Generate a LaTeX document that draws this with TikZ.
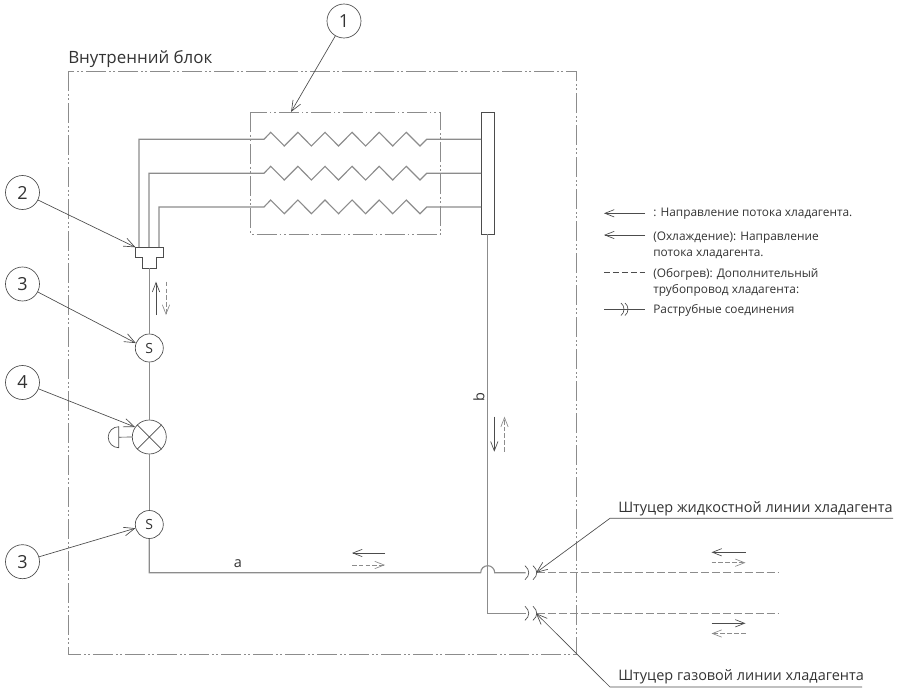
\documentclass[tikz,border=0pt]{standalone}
\usepackage{fontspec}
\setmainfont{Open Sans}
\usetikzlibrary{arrows.meta}
\definecolor{pipecol}{rgb}{0.55,0.55,0.55}
\definecolor{inkcol}{rgb}{0.3,0.3,0.3}
\definecolor{textcol}{rgb}{0.2,0.2,0.2}
\begin{document}
\begin{tikzpicture}[x=0.75pt,y=0.75pt,yscale=-1,xscale=1,
  pipe/.style={color=pipecol,line width=0.85pt},
  gasline/.style={color=pipecol,line width=0.75pt,dash pattern=on 6pt off 2.2pt},
  boxline/.style={color=pipecol,line width=0.6pt,dash pattern=on 15pt off 2.2pt on 1.2pt off 2.2pt on 1.2pt off 2.2pt},
  leader/.style={color=inkcol,line width=0.5pt,-{Straight Barb[length=8pt,width=6.5pt]}},
  flow/.style={color=inkcol,line width=0.5pt,-{Straight Barb[length=7pt,width=5.5pt]}},
  backflow/.style={color=pipecol,line width=0.5pt,dash pattern=on 3.5pt off 1.6pt,-{Straight Barb[length=7pt,width=5.5pt]}},
  callout/.style={circle,draw=inkcol,line width=0.5pt,minimum size=25.5pt,inner sep=0pt,font=\fontsize{13.5}{16}\selectfont,text=textcol},
  sensor/.style={circle,draw=inkcol,fill=white,line width=0.5pt,minimum size=21pt,inner sep=0pt,font=\fontsize{10.5}{12}\selectfont,text=textcol},
  label/.style={anchor=west,inner sep=0pt,text=textcol,font=\fontsize{10.85}{13}\selectfont},
  legend/.style={anchor=west,inner sep=0pt,align=left,text=textcol,font=\fontsize{8.9}{11.6}\selectfont}
]
\useasboundingbox (0,0) rectangle (901,690);

%Outer unit frame
\draw [boxline] (68,71) rectangle (576,654);
%Coil frame
\draw [boxline] (250.7,112) rectangle (440.7,234);

%Straight Lines: collector
\node [draw=inkcol,line width=0.6pt,minimum width=10.3pt,minimum height=91.5pt,inner sep=0pt] (collector) at (487.8,173) {};

%Coils
\draw [pipe] (139,247.3) -- (139,139.3) -- (264,139.3) -- (270.7,132.3) -- (284.3,146) -- (297.9,132.3) -- (311.4,146) -- (325,132.3) -- (338.5,146) -- (352.1,132.3) -- (365.6,146) -- (379.2,132.3) -- (392.7,146) -- (406.3,132.3) -- (420,146) -- (426.7,139.3) -- (481,139.3);
\draw [pipe] (149,247.3) -- (149,173.3) -- (264,173.3) -- (270.7,166.3) -- (284.3,180) -- (297.9,166.3) -- (311.4,180) -- (325,166.3) -- (338.5,180) -- (352.1,166.3) -- (365.6,180) -- (379.2,166.3) -- (392.7,180) -- (406.3,166.3) -- (420,180) -- (426.7,173.3) -- (481,173.3);
\draw [pipe] (159,247.3) -- (159,207) -- (264,207) -- (270.7,200) -- (284.3,213.7) -- (297.9,200) -- (311.4,213.7) -- (325,200) -- (338.5,213.7) -- (352.1,200) -- (365.6,213.7) -- (379.2,200) -- (392.7,213.7) -- (406.3,200) -- (420,213.7) -- (426.7,207) -- (481,207);

%Distributor
\draw [color=inkcol,line width=0.6pt] (135.5,247.3) -- (163,247.3) -- (163,257.7) -- (156,257.7) -- (156,268.3) -- (142.5,268.3) -- (142.5,257.7) -- (135.5,257.7) -- cycle ;
\coordinate (hdrtip) at (135.5,247.3);
\coordinate (hdrout) at (149.3,268.3);

%Valves
\node [sensor] (sensorup) at (149.3,348) {S};
\node [sensor,minimum size=25.5pt] (valve) at (149.3,437) {};
\node [sensor] (sensordown) at (149.3,524.5) {S};
\draw [color=inkcol,line width=0.5pt] (valve.45) -- (valve.225) (valve.135) -- (valve.315);
\draw [color=inkcol,line width=0.5pt] (valve.west) -- (118.7,437.2) (118.7,447.7) arc [start angle=90,end angle=270,radius=10.5] -- cycle ;

%Straight Lines
\coordinate (hopin) at (480.7,572.7);
\coordinate (liquidend) at (525.5,572.7);
\coordinate (gasend) at (525.5,613.3);
\draw [pipe] (hdrout) -- (sensorup);
\draw [pipe] (sensorup) -- (valve);
\draw [pipe] (valve) -- (sensordown);
\draw [pipe] (sensordown) |- (hopin) arc [start angle=180,end angle=360,radius=7] -- (liquidend);
\draw [pipe] (collector.south) -- (487.8,613.3) -- (gasend);
\draw [gasline] (537,572.7) -- (779,572.7);
\draw [gasline] (537,613.3) -- (779,613.3);

%Shape: Flare
\draw [color=inkcol,line width=0.5pt] (525,565.7) .. controls (530,570) and (530,575.5) .. (525,579.7) (533,565.7) .. controls (538,570) and (538,575.5) .. (533,579.7);
\draw [color=inkcol,line width=0.5pt] (525,606.3) .. controls (530,610.6) and (530,616.1) .. (525,620.3) (533,606.3) .. controls (538,610.6) and (538,616.1) .. (533,620.3);

%Flow arrows
\draw [flow] (156,315) -- (156,281.7);
\draw [backflow] (166,281.7) -- (166,315);
\draw [flow] (494.3,416.7) -- (494.3,451.7);
\draw [backflow] (504.5,451.7) -- (504.5,416.7);
\draw [flow] (385,553) -- (352,553);
\draw [backflow] (352,565) -- (385,565);
\draw [flow] (745.5,552.3) -- (711.5,552.3);
\draw [backflow] (711.5,562.7) -- (745.5,562.7);
\draw [flow] (711.5,623.3) -- (745.5,623.3);
\draw [backflow] (745.5,633.5) -- (711.5,633.5);

%Legend symbols
\draw [flow] (645,213.3) -- (604,213.3);
\draw [flow] (645,235) -- (604,235);
\draw [color=inkcol,line width=0.5pt,dash pattern=on 4.5pt off 2.2pt] (604,272.3) -- (645,272.3);
\draw [color=inkcol,line width=0.5pt] (604,309.3) -- (645,309.3);
\draw [color=inkcol,line width=0.5pt] (621,303) .. controls (625,306) and (625,312.5) .. (621,315.5) (625,303) .. controls (629,306) and (629,312.5) .. (625,315.5);

%Callouts
\node [callout] (callfirst) at (344,21) {1};
\node [callout] (callsecond) at (22.5,192.5) {2};
\node [callout] (callthird) at (22.5,284) {3};
\node [callout] (callfourth) at (22.5,382.5) {4};
\node [callout] (callfifth) at (22.5,561.7) {3};
\coordinate (coiltip) at (291,112);
\coordinate (liquidtip) at (536,572.7);
\coordinate (gastip) at (536,613.3);
\coordinate (liquidknee) at (610,518.3);
\coordinate (gasknee) at (610,687);
\draw [leader] (callfirst) -- (coiltip);
\draw [leader] (callsecond) -- (hdrtip);
\draw [leader] (callthird) -- (sensorup.160);
\draw [leader] (callfourth) -- (valve.145);
\draw [leader] (callfifth) -- (sensordown.195);
\draw [leader] (893,518.3) -- (liquidknee) -- (liquidtip);
\draw [leader] (862,687) -- (gasknee) -- (gastip);

% Text Node
\node [label,font=\fontsize{12.7}{15}\selectfont] (unitlabel) at (68,59) {Внутренний блок};
% Text Node
\node [label] (liquidlabel) at (618,508.5) {Штуцер жидкостной линии хладагента};
% Text Node
\node [label] (gaslabel) at (618,677) {Штуцер газовой линии хладагента};
% Text Node
\node [label,anchor=center] (linea) at (238,564) {a};
% Text Node
\node [label,anchor=center,rotate=90] (lineb) at (479,397) {b};
% Text Node
\node [legend] (legendflow) at (653,214) {: Направление потока хладагента.};
% Text Node
\node [legend] (legendcool) at (653,245.5) {(Охлаждение): Направление\\потока хладагента.};
% Text Node
\node [legend] (legendheat) at (653,282.5) {(Обогрев): Дополнительный\\трубопровод хладагента:};
% Text Node
\node [legend] (legendflare) at (653,310) {Раструбные соединения};

\end{tikzpicture}
\end{document}
